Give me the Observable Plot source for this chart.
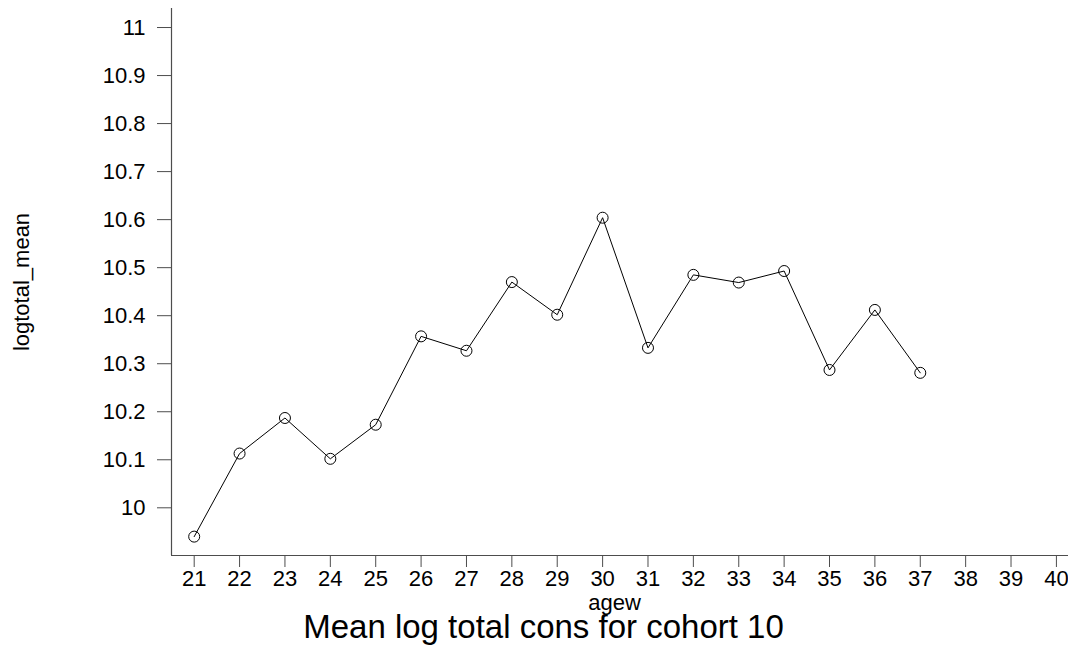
<!DOCTYPE html>
<html>
<head>
<meta charset="utf-8">
<script src="https://cdn.jsdelivr.net/npm/d3@7"></script>
<script src="https://cdn.jsdelivr.net/npm/@observablehq/plot@0.6"></script>
<style>
  html, body { margin: 0; padding: 0; background: #fff; }
</style>
</head>
<body>
<div id="chart"></div>
<script>
// Data
const agew = [21, 22, 23, 24, 25, 26, 27, 28, 29, 30, 31, 32, 33, 34, 35, 36, 37];
const logtotalMean = [9.940, 10.113, 10.187, 10.102, 10.173, 10.357, 10.327, 10.470, 10.402, 10.604, 10.333, 10.485, 10.469, 10.493, 10.287, 10.412, 10.281];
const xTicks = [21, 22, 23, 24, 25, 26, 27, 28, 29, 30, 31, 32, 33, 34, 35, 36, 37, 38, 39, 40];
const yTicks = [10, 10.1, 10.2, 10.3, 10.4, 10.5, 10.6, 10.7, 10.8, 10.9, 11];
const xDomain = [20.5, 40.5];
const yDomain = [9.9007, 11.0396];
const xLabel = "agew";
const yLabel = "logtotal_mean";
const title = "Mean log total cons for cohort 10";

const data = agew.map((a, i) => ({agew: a, value: logtotalMean[i]}));
const axisColor = "#4d4d4d";
const font = "'Liberation Sans', Arial, Helvetica, sans-serif";

const chart = Plot.plot({
  width: 1068,
  height: 650,
  marginTop: 8,
  marginBottom: 95,
  marginLeft: 171,
  marginRight: 0,
  style: {fontFamily: font, fontSize: "22px", color: "black", background: "white"},
  x: {domain: xDomain, range: [171, 1078.6]},
  y: {domain: yDomain},
  marks: [
    Plot.ruleX([xDomain[0]], {y1: yDomain[0], y2: yDomain[1], stroke: axisColor, strokeWidth: 1.2}),
    Plot.ruleY([yDomain[0]], {x1: xDomain[0], x2: xDomain[1], stroke: axisColor, strokeWidth: 1.2}),
    Plot.axisX({ticks: xTicks, tickSize: 12, tickPadding: 3, fontSize: 22, stroke: axisColor, fill: "black", label: null, tickFormat: d => String(d)}),
    Plot.axisY({ticks: yTicks, tickSize: 14, tickPadding: 12, fontSize: 22, stroke: axisColor, fill: "black", label: null, tickFormat: d => String(+d.toFixed(1))}),
    Plot.line(data, {x: "agew", y: "value", stroke: "black", strokeWidth: 1}),
    Plot.dot(data, {x: "agew", y: "value", r: 5.5, stroke: "black", strokeWidth: 1, fill: "none"}),
    Plot.text([xLabel], {text: d => d, frameAnchor: "bottom", lineAnchor: "middle", textAnchor: "middle", dx: -5.5, dy: 47, fontSize: 22, fill: "black"}),
    Plot.text([title], {text: d => d, frameAnchor: "bottom", lineAnchor: "middle", textAnchor: "middle", dx: -76.5, dy: 72.4, fontSize: 33, fill: "black"}),
    Plot.text([yLabel], {text: d => d, frameAnchor: "left", lineAnchor: "middle", textAnchor: "middle", dx: -150, rotate: -90, fontSize: 22, fill: "black"})
  ]
});
document.getElementById("chart").appendChild(chart);
</script>
</body>
</html>
